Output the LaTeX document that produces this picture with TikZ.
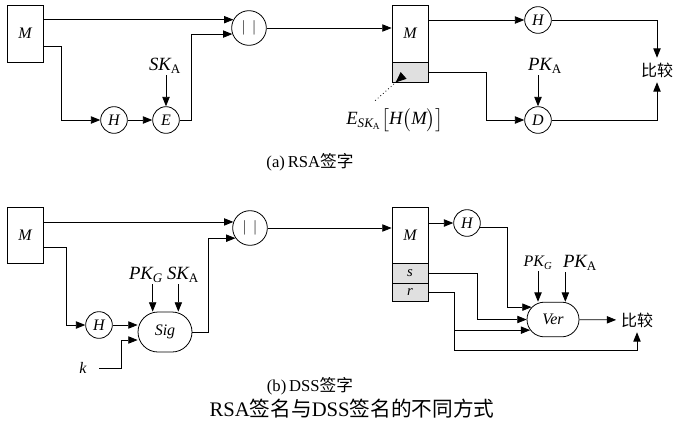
\documentclass[tikz,border=0pt]{standalone}
\usepackage{amsmath}
\usepackage{fontspec}
\setmainfont{Liberation Serif}
\newfontfamily\cjk{Noto Sans CJK SC}
\usetikzlibrary{calc, positioning}
\usetikzlibrary{arrows.meta}
\usetikzlibrary{shapes.misc}

\begin{document}
\begin{tikzpicture}[x=0.75pt, y=-0.75pt, line width=0.6pt,
  arr/.style={-{Triangle[length=7pt, width=5.5pt]}},
  msgbox/.style={draw, rectangle, minimum width=27pt, inner sep=0pt, font=\fontsize{12}{14}\selectfont\itshape},
  sigpart/.style={msgbox, fill=black!12, minimum height=15pt, font=\fontsize{11}{13}\selectfont\itshape},
  opcirc/.style={draw, circle, minimum size=20pt, inner sep=0pt, font=\fontsize{12}{14}\selectfont\itshape},
  catcirc/.style={draw, circle, minimum size=26pt, inner sep=0pt, font=\fontsize{11}{13}\selectfont},
  algbox/.style={draw, rounded rectangle, inner sep=0pt, font=\fontsize{12}{14}\selectfont\itshape},
  keylbl/.style={inner sep=1pt, font=\fontsize{14}{16}\selectfont},
  cmptxt/.style={font=\cjk\fontsize{12}{14}\selectfont},
  subcap/.style={font=\fontsize{12.5}{15}\selectfont},
  titletxt/.style={font=\fontsize{15.5}{18}\selectfont}]
\useasboundingbox (0,0) rectangle (688,440);
% (a) RSA
\node[msgbox, minimum height=42.75pt] (ma) at (25,33.5) {M};
\node[opcirc] (ha) at (114,120) {H};
\node[opcirc] (ea) at (166,120) {E};
\node[catcirc] (cca) at (249,28) {$|\;\,|$};
\node[keylbl] (ska) at (165,66) {$\textit{SK}_{\mathrm{A}}$};
\node[msgbox, minimum height=42.75pt] (rma) at (410,33.5) {M};
\node[sigpart] (sga) at (410,72) {};
\node[opcirc] (hra) at (538,20) {H};
\node[opcirc] (dra) at (538,120) {D};
\node[keylbl] (pka) at (545,66) {$\textit{PK}_{\mathrm{A}}$};
\node[cmptxt] (cmpa) at (657,70) {比较};
\node[keylbl] (esk) at (395,120) {$\textit{E}_{\textit{SK}_{\mathrm{A}}}\bigl[\textit{H}\bigl(\textit{M}\bigr)\bigr]$};
\node[subcap] (capa) at (310,162) {(a)\,RSA{\cjk 签字}};
\draw[arr] (ma.east |- cca.152) -- (cca.152);
\draw[arr] ($(ma.north east)+(0,42)$) -- ++(18,0) |- (ha);
\draw[arr] (ha) -- (ea);
\draw[arr] (ska.south -| ea) -- (ea);
\draw[arr] (ea.east) -- ++(12,0) |- (cca.200);
\draw[arr] (cca) -- (cca -| rma.west);
\draw[arr] (rma.east |- hra) -- (hra);
\draw[arr] (hra) -| (cmpa);
\draw[arr] (sga.east) -- ++(58,0) |- (dra);
\draw[arr] (pka.south -| dra) -- (dra);
\draw[arr] (dra) -| (cmpa);
\draw[dotted, {Triangle[reversed, length=8pt, width=6.5pt]}-] ($(sga.south west)+(12,-7)$) -- ($(esk.north)+(-20,-6)$);
% (b) DSS
\node[msgbox, minimum height=42pt] (mb) at (25,235) {M};
\node[opcirc] (hb) at (99,325) {H};
\node[algbox, minimum width=40.5pt, minimum height=30pt] (sig) at (165,332) {Sig};
\node[catcirc] (ccb) at (250,228) {$|\;\,|$};
\node[keylbl] (pkg) at (146,275) {$\textit{PK}_{\textit{G}}$};
\node[keylbl] (skb) at (183,275) {$\textit{SK}_{\mathrm{A}}$};
\node[font=\fontsize{12}{14}\selectfont\itshape] (k) at (83,368) {k};
\node[msgbox, minimum height=42pt] (rmb) at (410,235) {M};
\node[sigpart] (sb) at (410,273) {s};
\node[sigpart, minimum height=13.5pt] (rb) at (410,292) {r};
\node[opcirc] (hrb) at (467,223) {H};
\node[algbox, minimum width=39pt, minimum height=26pt] (ver) at (553,319.5) {Ver};
\node[keylbl, font=\fontsize{12}{14}\selectfont] (pkgr) at (538,263) {$\textit{PK}_{\textit{G}}$};
\node[keylbl] (pkar) at (580,263) {$\textit{PK}_{\mathrm{A}}$};
\node[cmptxt] (cmpb) at (637,320) {比较};
\node[subcap] (capb) at (310,386) {(b)\,DSS{\cjk 签字}};
\node[titletxt] (title) at (352,409) {RSA{\cjk 签名与}DSS{\cjk 签名的不同方式}};
\draw[arr] (mb.east |- ccb.160) -- (ccb.160);
\draw[arr] ($(mb.north east)+(0,41)$) -- ++(23,0) |- (hb);
\draw[arr] (hb) -- (hb -| sig.west);
\draw[arr] ($(k.east)+(8,0)$) -- ++(22,0) |- ([yshift=-6pt]sig.west);
\draw[arr] ([xshift=5pt]pkg.south) -- ([xshift=5pt]pkg.south |- sig.north);
\draw[arr] ([xshift=-3.5pt]skb.south) -- ([xshift=-3.5pt]skb.south |- sig.north);
\draw[arr] (sig.east) -- ++(16,0) |- (ccb.215);
\draw[arr] (ccb) -- (ccb -| rmb.west);
\draw[arr] (rmb.east |- hrb) -- (hrb);
\draw[arr] (hrb.-20) -- ++(27,0) |- (ver.150);
\draw[arr] (sb.east) -- ++(49,0) |- (ver.west);
\coordinate (rj) at ($(rb.east)+(26,0)$);
\draw (rb.east) -- (rj);
\draw[arr] (rj) |- (ver.205);
\draw[arr] (rj) -- ++(0,58) -| (cmpb);
\draw[arr] (ver) -- (cmpb);
\draw[arr] (pkgr.south) -- (pkgr.south |- ver.north);
\draw[arr] ([xshift=-11pt]pkar.south) -- ([xshift=-11pt]pkar.south |- ver.north);
\end{tikzpicture}
\end{document}
